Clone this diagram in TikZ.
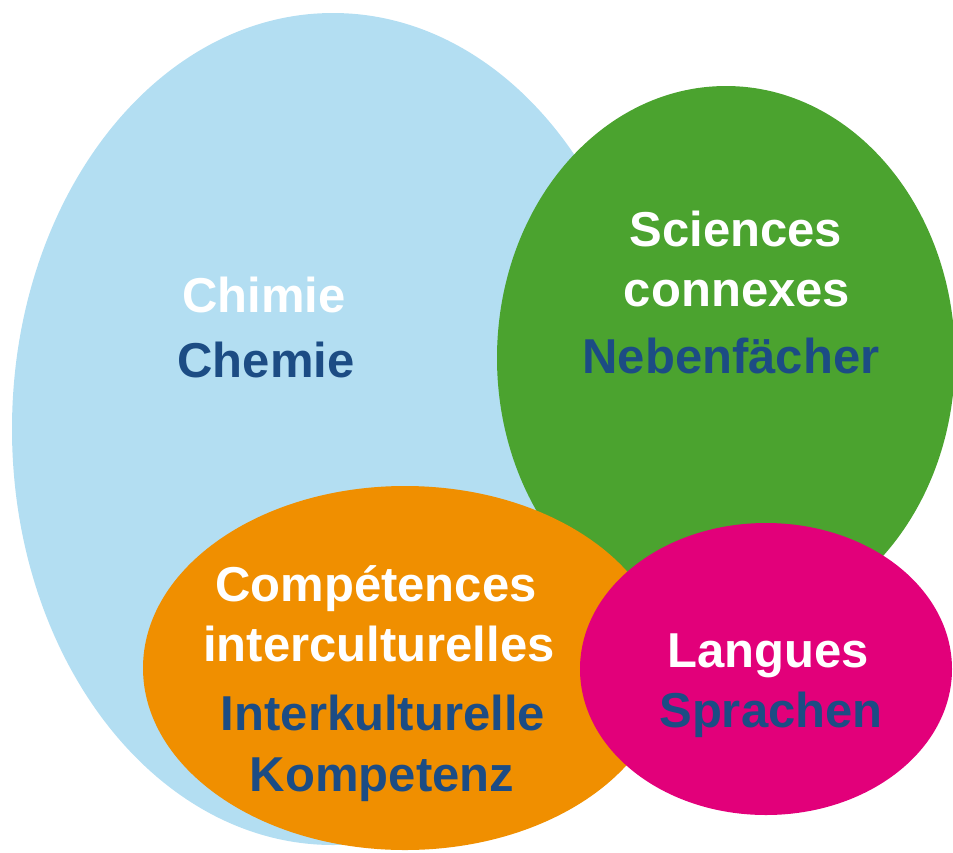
\documentclass[tikz,border=0pt]{standalone}
\usepackage{fontspec}
\setmainfont{Liberation Sans}
\definecolor{cblue}{HTML}{B3DEF2}
\definecolor{cgreen}{HTML}{4BA32F}
\definecolor{corange}{HTML}{F08F00}
\definecolor{cmagenta}{HTML}{E2007A}
\definecolor{ctext}{HTML}{1C4C84}
\tikzset{
  lbl/.style={anchor=base, inner sep=0pt, font=\fontsize{49}{58}\selectfont\bfseries},
  wlbl/.style={lbl, text=white},
  dlbl/.style={lbl, text=ctext}
}
\begin{document}
\begin{tikzpicture}[x=1pt, y=-1pt]
\useasboundingbox (0,0) rectangle (953,852);
\fill[cblue] (333,429) ellipse [x radius=321, y radius=416];
\fill[cgreen] (726,358) ellipse [x radius=229, y radius=272];
\fill[corange] (405,668) ellipse [x radius=262, y radius=182];
\fill[cmagenta] (766,669) ellipse [x radius=186, y radius=146];
\node[wlbl] (chimie) at (264,312) {Chimie};
\node[dlbl] (chemie) at (266,377) {Chemie};
\node[wlbl] (sciences) at (736,246) {Sciences};
\node[wlbl] (connexes) at (737,306) {connexes};
\node[dlbl] (neben) at (731,373) {Nebenfächer};
\node[wlbl] (comp) at (376,601) {Compétences};
\node[wlbl] (inter) at (379,661) {interculturelles};
\node[dlbl] (interk) at (383,730) {Interkulturelle};
\node[dlbl] (kompetenz) at (382,791) {Kompetenz};
\node[wlbl] (langues) at (768,667) {Langues};
\node[dlbl] (sprachen) at (771,727) {Sprachen};
\end{tikzpicture}
\end{document}
